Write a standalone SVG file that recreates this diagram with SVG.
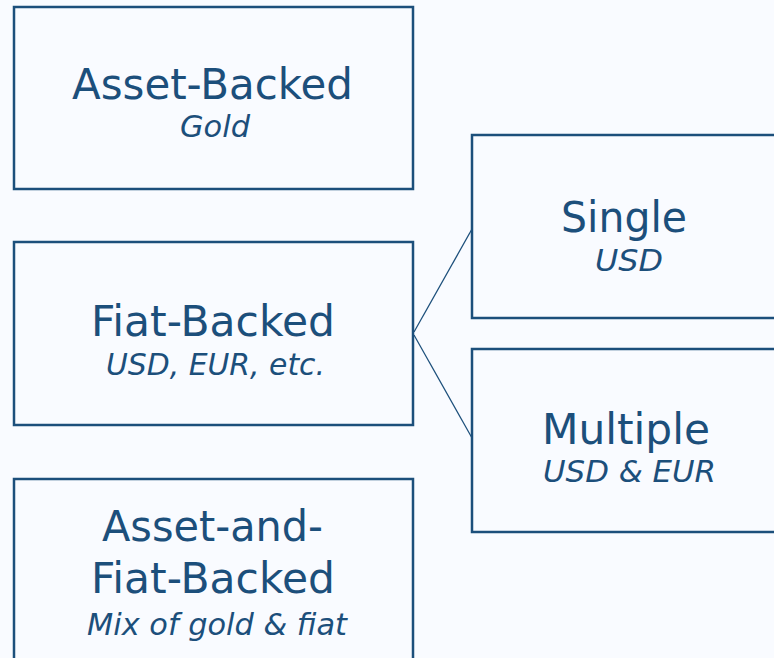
<svg xmlns="http://www.w3.org/2000/svg" width="774" height="658" viewBox="0 0 774 658">
<style>
.bg{fill:#f9fbff}
.box{fill:#f9fbff;stroke:#1c4f7b;stroke-width:2.5}
.t{font-family:"DejaVu Sans",sans-serif;font-size:42px;fill:#1c4f7b;text-anchor:middle}
.s{font-family:"DejaVu Sans",sans-serif;font-style:italic;font-size:30px;fill:#1c4f7b;text-anchor:middle}
.c{fill:none;stroke:#1c4f7b;stroke-width:1.3}
</style>
<rect class="bg" x="0" y="0" width="774" height="658"/>
<g id="connectors">
<line class="c" x1="414" y1="332" x2="472" y2="229"/>
<line class="c" x1="414" y1="335" x2="472" y2="438"/>
</g>
<g id="asset-backed">
<rect class="box" x="14" y="7" width="399" height="182"/>
<text class="t" x="212.5" y="99" textLength="281" lengthAdjust="spacingAndGlyphs">Asset-Backed</text>
<text class="s" x="215" y="137" textLength="70" lengthAdjust="spacingAndGlyphs">Gold</text>
</g>
<g id="fiat-backed">
<rect class="box" x="14" y="242" width="399" height="183"/>
<text class="t" x="213" y="336" textLength="244" lengthAdjust="spacingAndGlyphs">Fiat-Backed</text>
<text class="s" x="215.5" y="375" textLength="219" lengthAdjust="spacingAndGlyphs">USD, EUR, etc.</text>
</g>
<g id="asset-and-fiat-backed">
<rect class="box" x="14" y="479" width="399" height="200"/>
<text class="t" x="212.5" y="541" textLength="221" lengthAdjust="spacingAndGlyphs">Asset-and-</text>
<text class="t" x="213" y="593" textLength="244" lengthAdjust="spacingAndGlyphs">Fiat-Backed</text>
<text class="s" x="217" y="635" textLength="260" lengthAdjust="spacingAndGlyphs">Mix of gold &amp; fiat</text>
</g>
<g id="single">
<rect class="box" x="472" y="135" width="320" height="183"/>
<text class="t" x="624" y="232" textLength="126" lengthAdjust="spacingAndGlyphs">Single</text>
<text class="s" x="629" y="271" textLength="68" lengthAdjust="spacingAndGlyphs">USD</text>
</g>
<g id="multiple">
<rect class="box" x="472" y="349" width="320" height="183"/>
<text class="t" x="626" y="444" textLength="168" lengthAdjust="spacingAndGlyphs">Multiple</text>
<text class="s" x="629.5" y="482" textLength="173" lengthAdjust="spacingAndGlyphs">USD &amp; EUR</text>
</g>
</svg>
